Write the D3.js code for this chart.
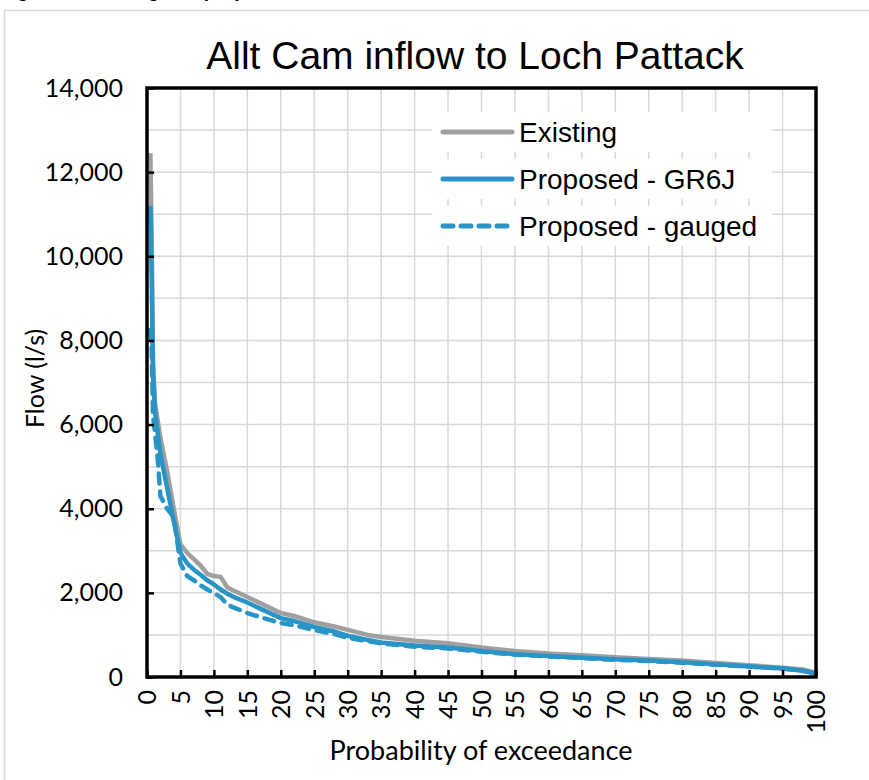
<!DOCTYPE html>
<html>
<head>
<meta charset="utf-8">
<script src="https://cdn.jsdelivr.net/npm/d3@7"></script>
<style>
  body { margin: 0; background: #fff; }
  svg { display: block; }
</style>
</head>
<body>
<svg id="chart" width="869" height="780"></svg>
<script>
// probability of exceedance (%)
const prob = [0.5, 0.7, 0.9, 1.2, 1.6, 2, 3, 4, 5, 6, 7, 8, 9, 10, 11, 12, 13, 15, 17, 20,
  22, 25, 28, 30, 33, 35, 40, 45, 50, 55, 60, 65, 70, 75, 80, 85, 90, 95, 98, 100];
// flow (l/s)
const existing = [12450, 10500, 7500, 6500, 6100, 5700, 4900, 4000, 3150, 2950, 2800, 2650, 2450, 2400, 2380, 2130, 2050, 1900, 1750, 1520,
  1450, 1300, 1200, 1120, 1000, 950, 860, 800, 700, 620, 560, 520, 470, 430, 390, 330, 280, 220, 180, 100];
const gr6j = [11200, 9500, 7200, 6300, 5800, 5300, 4500, 3700, 2950, 2700, 2550, 2430, 2300, 2200, 2080, 1980, 1900, 1770, 1620, 1400,
  1330, 1190, 1080, 980, 880, 820, 750, 700, 620, 540, 500, 460, 420, 390, 350, 300, 250, 200, 150, 80];
const gauged = [8250, 7800, 6200, 5800, 5200, 4300, 4000, 3800, 2700, 2400, 2300, 2180, 2080, 2000, 1900, 1720, 1650, 1520, 1420, 1280,
  1230, 1120, 1020, 930, 850, 800, 720, 680, 600, 530, 490, 450, 410, 380, 340, 290, 250, 200, 150, 90];

const seriesNames = ["Existing", "Proposed - GR6J", "Proposed - gauged"];
const xTicks = d3.range(0, 101, 5);
const yTicks = d3.range(0, 14001, 2000);
const yGrid = d3.range(0, 14001, 1000);

const svg = d3.select("#chart");
const plot = {left: 147, right: 816, top: 88, bottom: 677};
const grey = "#a0a0a0", blue = "#2994c6";
const tickFont = "Lato, 'Open Sans', sans-serif";
const arial = "'Liberation Sans', Arial, sans-serif";

//外框
svg.append("rect")
    .attr("x", 4.5).attr("y", 10.5)
    .attr("width", 900).attr("height", 900)
    .attr("fill", "#fff")
    .attr("stroke", "#d9d9d9")
    .attr("stroke-width", 1.5);

// cut-off caption line from the page above
svg.append("text")
    .attr("x", 0).attr("y", -3)
    .attr("font-family", arial)
    .attr("font-weight", "bold")
    .attr("font-size", 19)
    .text("Figure 6: Existing and proposed flow duration curves");

let xScale = d3.scaleLinear().domain([0, 100]).range([plot.left, plot.right]);
let yScale = d3.scaleLinear().domain([0, 14000]).range([plot.bottom, plot.top]);

//网格
svg.append("g").selectAll("line")
    .data(xTicks.slice(1, -1))
    .enter().append("line")
    .attr("x1", d => xScale(d)).attr("x2", d => xScale(d))
    .attr("y1", plot.top).attr("y2", plot.bottom)
    .attr("stroke", "#d9d9d9").attr("stroke-width", 1.5);
svg.append("g").selectAll("line")
    .data(yGrid.slice(1, -1))
    .enter().append("line")
    .attr("x1", plot.left).attr("x2", plot.right)
    .attr("y1", d => yScale(d)).attr("y2", d => yScale(d))
    .attr("stroke", "#d9d9d9").attr("stroke-width", 1.5);

//曲线
let line = d3.line()
    .x((d, i) => xScale(prob[i]))
    .y(d => yScale(d));
svg.append("path").datum(existing)
    .attr("d", line).attr("fill", "none")
    .attr("stroke", grey).attr("stroke-width", 4.5)
    .attr("stroke-linejoin", "round");
svg.append("path").datum(gr6j)
    .attr("d", line).attr("fill", "none")
    .attr("stroke", blue).attr("stroke-width", 4.5)
    .attr("stroke-linejoin", "round");
svg.append("path").datum(gauged)
    .attr("d", line).attr("fill", "none")
    .attr("stroke", blue).attr("stroke-width", 4.5)
    .attr("stroke-dasharray", "10,8")
    .attr("stroke-linecap", "round")
    .attr("stroke-linejoin", "round");

//坐标轴
let xAxis = d3.axisBottom(xScale).tickValues(xTicks).tickSize(-7).tickPadding(10);
let gx = svg.append("g")
    .attr("transform", "translate(0," + plot.bottom + ")")
    .call(xAxis);
gx.select(".domain").remove();
gx.selectAll(".tick line").attr("stroke", "#000").attr("stroke-width", 2.5);
gx.selectAll(".tick text")
    .attr("font-family", tickFont).attr("font-size", 25).attr("fill", "#000")
    .attr("transform", "rotate(-90)")
    .attr("text-anchor", "end")
    .attr("x", -13).attr("y", 0).attr("dy", "0.35em");

let yAxis = d3.axisLeft(yScale).tickValues(yTicks).tickSize(-7).tickPadding(24)
    .tickFormat(d3.format(","));
let gy = svg.append("g")
    .attr("transform", "translate(" + plot.left + ",0)")
    .call(yAxis);
gy.select(".domain").remove();
gy.selectAll(".tick line").attr("stroke", "#000").attr("stroke-width", 2.5);
gy.selectAll(".tick text")
    .attr("font-family", tickFont).attr("font-size", 25).attr("fill", "#000");

svg.append("rect")
    .attr("x", plot.left).attr("y", plot.top)
    .attr("width", plot.right - plot.left).attr("height", plot.bottom - plot.top)
    .attr("fill", "none").attr("stroke", "#000").attr("stroke-width", 3.5);

//标题
svg.append("text")
    .attr("x", 475).attr("y", 69)
    .attr("text-anchor", "middle")
    .attr("font-family", arial).attr("font-size", 39)
    .text("Allt Cam inflow to Loch Pattack");
svg.append("text")
    .attr("transform", "translate(44," + ((plot.top + plot.bottom) / 2 - 4) + ") rotate(-90)")
    .attr("text-anchor", "middle")
    .attr("font-family", tickFont).attr("font-size", 25)
    .text("Flow (l/s)");
svg.append("text")
    .attr("x", 481).attr("y", 760)
    .attr("text-anchor", "middle")
    .attr("font-family", tickFont).attr("font-size", 27)
    .text("Probability of exceedance");

//图例
let legend = svg.append("g").selectAll("g")
    .data(seriesNames)
    .enter().append("g")
    .attr("transform", (d, i) => "translate(0," + (132 + i * 47) + ")");
legend.append("rect")
    .attr("x", 432).attr("y", -20).attr("width", 340).attr("height", 40)
    .attr("fill", "#fff");
legend.append("line")
    .attr("x1", 443).attr("x2", 512)
    .attr("stroke", (d, i) => i == 0 ? grey : blue)
    .attr("stroke-width", 5)
    .attr("stroke-linecap", "round")
    .attr("stroke-dasharray", (d, i) => i == 2 ? "10,8" : null);
legend.append("text")
    .attr("x", 519).attr("dy", "0.35em")
    .attr("font-family", arial).attr("font-size", 28)
    .text(d => d);
</script>
</body>
</html>
